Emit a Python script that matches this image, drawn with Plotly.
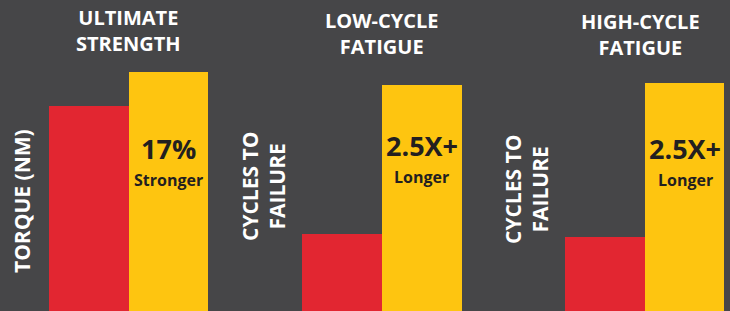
import plotly.graph_objects as go

# Data (relative heights; first panel red = 100)
panels = ["ULTIMATE<br>STRENGTH", "LOW-CYCLE<br>FATIGUE", "HIGH-CYCLE<br>FATIGUE"]
y_titles = ["TORQUE (NM)", "CYCLES TO<br>FAILURE", "CYCLES TO<br>FAILURE"]
categories = ["Competitor", "Ours"]
red_values = [100, 37.6, 36.1]
yellow_values = [116.6, 110.2, 111.2]
big_labels = ["17%", "2.5X+", "2.5X+"]
small_labels = ["Stronger", "Longer", "Longer"]

BG = "#464648"
RED = "#e22631"
YELLOW = "#fec510"
DARK = "#231f20"
FONT = "Open Sans"

W, H = 730, 311
ymax = 151.7

# panel geometry in pixels (x0, x1)
domains = [(49, 208), (302, 462), (565, 724)]
title_pos = [(128, 30), (382, 33), (640, 35)]
ytitle_pos = [(22, 201), (263, 187), (526, 190)]
label_pos = [(168, 168), (422, 165), (685, 168)]

fig = go.Figure()
for i in range(3):
    xa = "x" if i == 0 else f"x{i+1}"
    ya = "y" if i == 0 else f"y{i+1}"
    fig.add_trace(go.Bar(
        x=categories, y=[red_values[i], yellow_values[i]],
        marker=dict(color=[RED, YELLOW], line=dict(width=0)),
        xaxis=xa, yaxis=ya, showlegend=False, hoverinfo="skip"))
    d0, d1 = domains[i]
    axkey = "xaxis" if i == 0 else f"xaxis{i+1}"
    aykey = "yaxis" if i == 0 else f"yaxis{i+1}"
    fig.layout[axkey] = dict(domain=[d0 / W, d1 / W], anchor=ya, visible=False,
                             showgrid=False, zeroline=False)
    fig.layout[aykey] = dict(domain=[0, 1], anchor=xa, range=[0, ymax], visible=False,
                             showgrid=False, zeroline=False)

    tx, ty = title_pos[i]
    fig.add_annotation(x=tx / W, y=1 - ty / H, xref="paper", yref="paper",
                       text=f"<b>{panels[i]}</b>", showarrow=False,
                       xanchor="center", yanchor="middle", borderpad=0,
                       font=dict(family=FONT, size=20, color="white"))

    yx, yy = ytitle_pos[i]
    fig.add_annotation(x=yx / W, y=1 - yy / H, xref="paper", yref="paper",
                       text=f"<b>{y_titles[i]}</b>", showarrow=False, textangle=-90,
                       xanchor="center", yanchor="middle",
                       font=dict(family=FONT, size=21, color="white"))

    lx, ly = label_pos[i]
    fig.add_annotation(x=lx / W, y=1 - ly / H, xref="paper", yref="paper",
                       text=f"<b>{big_labels[i]}</b>", showarrow=False,
                       xanchor="center", yanchor="bottom", borderpad=0,
                       font=dict(family=FONT, size=27, color=DARK))
    fig.add_annotation(x=lx / W, y=1 - ly / H, xref="paper", yref="paper",
                       text=f"<b>{small_labels[i]}</b>", showarrow=False,
                       xanchor="center", yanchor="top", borderpad=0,
                       font=dict(family=FONT, size=16, color=DARK))

fig.update_layout(
    width=W, height=H, margin=dict(l=0, r=0, t=0, b=0),
    paper_bgcolor=BG, plot_bgcolor=BG, bargap=0, barmode="group",
)
fig.write_html("out.html", config={"displayModeBar": False},
               post_script="document.body.style.margin='0';document.body.style.overflow='hidden';")
